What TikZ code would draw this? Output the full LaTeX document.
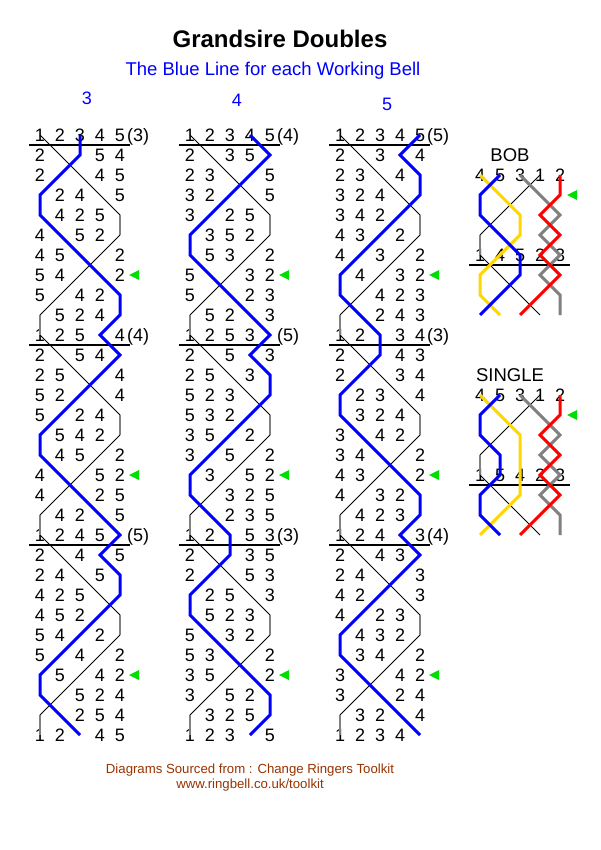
\documentclass[tikz,border=0pt]{standalone}
\usepackage{fontspec}
\setmainfont{Liberation Sans}
\usepackage{tikz}
\usetikzlibrary{calc}
\definecolor{workblue} {HTML}{0000FF}
\definecolor{liegrey}  {HTML}{808080}
\definecolor{cuegreen} {HTML}{00DD00}
\definecolor{bellgold} {HTML}{FFD700}
\definecolor{bellred}  {HTML}{FF0000}
\definecolor{source}   {HTML}{993300}
\newcommand{\plaincourse}{%
 1/2/3/4/5, 2/1/3/5/4, 2/3/1/4/5, 3/2/4/1/5, 3/4/2/5/1,
 4/3/5/2/1, 4/5/3/1/2, 5/4/1/3/2, 5/1/4/2/3, 1/5/2/4/3,
 1/2/5/3/4, 2/1/5/4/3, 2/5/1/3/4, 5/2/3/1/4, 5/3/2/4/1,
 3/5/4/2/1, 3/4/5/1/2, 4/3/1/5/2, 4/1/3/2/5, 1/4/2/3/5,
 1/2/4/5/3, 2/1/4/3/5, 2/4/1/5/3, 4/2/5/1/3, 4/5/2/3/1,
 5/4/3/2/1, 5/3/4/1/2, 3/5/1/4/2, 3/1/5/2/4, 1/3/2/5/4,
 1/2/3/4/5}
\newcommand{\callpanel}[4]{%
  \node[panelhead] (#1-head) at (510,#2) {#3};
  \begin{scope}[shift={(460,#2)}, x=20pt, y=-20pt]
    \foreach \pa/\pb/\pc/\pd/\pe [count=\row] in {#4} {
      \foreach \bell [count=\pos] in {\pa,\pb,\pc,\pd,\pe} {
        \coordinate (#1-\bell-\row) at (\pos,\row);
        \ifnum\row=1 \node[bellno] (#1-n\bell-\row) at (\pos,\row) {\bell};\fi
        \ifnum\row=5 \node[bellno] (#1-n\bell-\row) at (\pos,\row) {\bell};\fi
      }
    }
    \draw[leadend] (0.45,5.5) -- (5.5,5.5);
    \draw[treble] (#1-1-1) -- (#1-1-4);
    \draw[lie] (#1-1-4) -- (#1-1-5);
    \draw[treble] (#1-1-5) -- (#1-1-8);
    \foreach \bell/\colr in {3/liegrey, 2/bellred, 4/bellgold, 5/workblue}
      \draw[bellpath, draw=\colr] (#1-\bell-1) \foreach \row in {2,...,8} {-- (#1-\bell-\row)};
    \fill[cue] (5.35,2) -- (5.85,1.75) -- (5.85,2.25) -- cycle;
  \end{scope}}

\begin{document}
\begin{tikzpicture}[
  x=1pt, y=-1pt,
  headline/.style={font=\fontsize{24}{24}\selectfont\bfseries, text=black},
  subline/.style={font=\fontsize{18.5}{18.5}\selectfont, text=workblue},
  colhead/.style={font=\fontsize{18}{18}\selectfont, text=workblue, inner sep=0pt},
  panelhead/.style={font=\fontsize{18.5}{18.5}\selectfont, text=black, inner sep=0pt},
  bellno/.style={font=\fontsize{18}{18}\selectfont, inner sep=0pt, anchor=center},
  leadpos/.style={font=\fontsize{18}{18}\selectfont, inner sep=0pt, anchor=base west},
  sourceline/.style={font=\fontsize{13.2}{13.2}\selectfont, text=source, inner sep=0pt},
  treble/.style={black, line width=0.8pt},
  lie/.style={liegrey, line width=2pt},
  workline/.style={workblue, line width=3pt},
  bellpath/.style={line width=3pt},
  leadend/.style={black, line width=1.8pt},
  cue/.style={fill=cuegreen}
]
\useasboundingbox[fill=white] (0,0) rectangle (600,850);

\node[headline] (title) at (280,39) {Grandsire Doubles};
\node[subline] (subtitle) at (273,71) {The Blue Line for each Working Bell};

\foreach \cn/\wb/\xs/\la/\lb/\lc/\ty in {1/3/20/3/4/5/98, 2/4/170/4/5/3/100, 3/5/320/5/3/4/104} {
  \node[colhead] (head\cn) at (\xs+67,\ty) {\wb};
  \begin{scope}[shift={(\xs,115)}, x=20pt, y=-20pt]
    \foreach \pa/\pb/\pc/\pd/\pe [count=\row] in \plaincourse {
      \pgfmathtruncatemacro\lead{mod(\row-1,10)==0}
      \foreach \bell [count=\pos] in {\pa,\pb,\pc,\pd,\pe} {
        \coordinate (c\cn-\bell-\row) at (\pos,\row);
        \pgfmathtruncatemacro\vis{((\bell!=\wb) && ((\bell!=1) || (\lead==1))) || (\row==1)}
        \ifnum\vis=1 \node[bellno] (n\cn-\bell-\row) at (\pos,\row) {\bell};\fi
      }
    }
    \foreach \row in {1,11,21} \draw[leadend] (0.45,\row+0.5) -- (5.5,\row+0.5);
    \foreach \row/\n in {1/\la, 11/\lb, 21/\lc}
      \node[leadpos] (lp\cn-\row) at (5.35,\row+0.33) {(\n)};
    \foreach \u/\v in {1/5, 6/10, 11/15, 16/20, 21/25, 26/30}
      \draw[treble] (c\cn-1-\u) -- (c\cn-1-\v);
    \foreach \u/\v in {5/6, 10/11, 15/16, 20/21, 25/26, 30/31}
      \draw[lie] (c\cn-1-\u) -- (c\cn-1-\v);
    \draw[workline] (c\cn-\wb-1) \foreach \row in {2,...,31} {-- (c\cn-\wb-\row)};
    \foreach \row in {8,18,28}
      \fill[cue] (5.45,\row) -- (5.95,\row-0.25) -- (5.95,\row+0.25) -- cycle;
  \end{scope}
}

\callpanel{bob}{155}{BOB}{4/5/3/1/2, 5/4/1/3/2, 5/1/4/2/3, 1/5/4/3/2, 1/4/5/2/3, 4/1/5/3/2, 4/5/1/2/3, 5/4/2/1/3}
\callpanel{single}{375}{SINGLE}{4/5/3/1/2, 5/4/1/3/2, 5/1/4/2/3, 1/5/4/3/2, 1/5/4/2/3, 5/1/4/3/2, 5/4/1/2/3, 4/5/2/1/3}

\node[sourceline] (source) at (250,770) {Diagrams Sourced from : Change Ringers Toolkit};
\node[sourceline] (site) at (250,785) {www.ringbell.co.uk/toolkit};
\end{tikzpicture}
\end{document}
